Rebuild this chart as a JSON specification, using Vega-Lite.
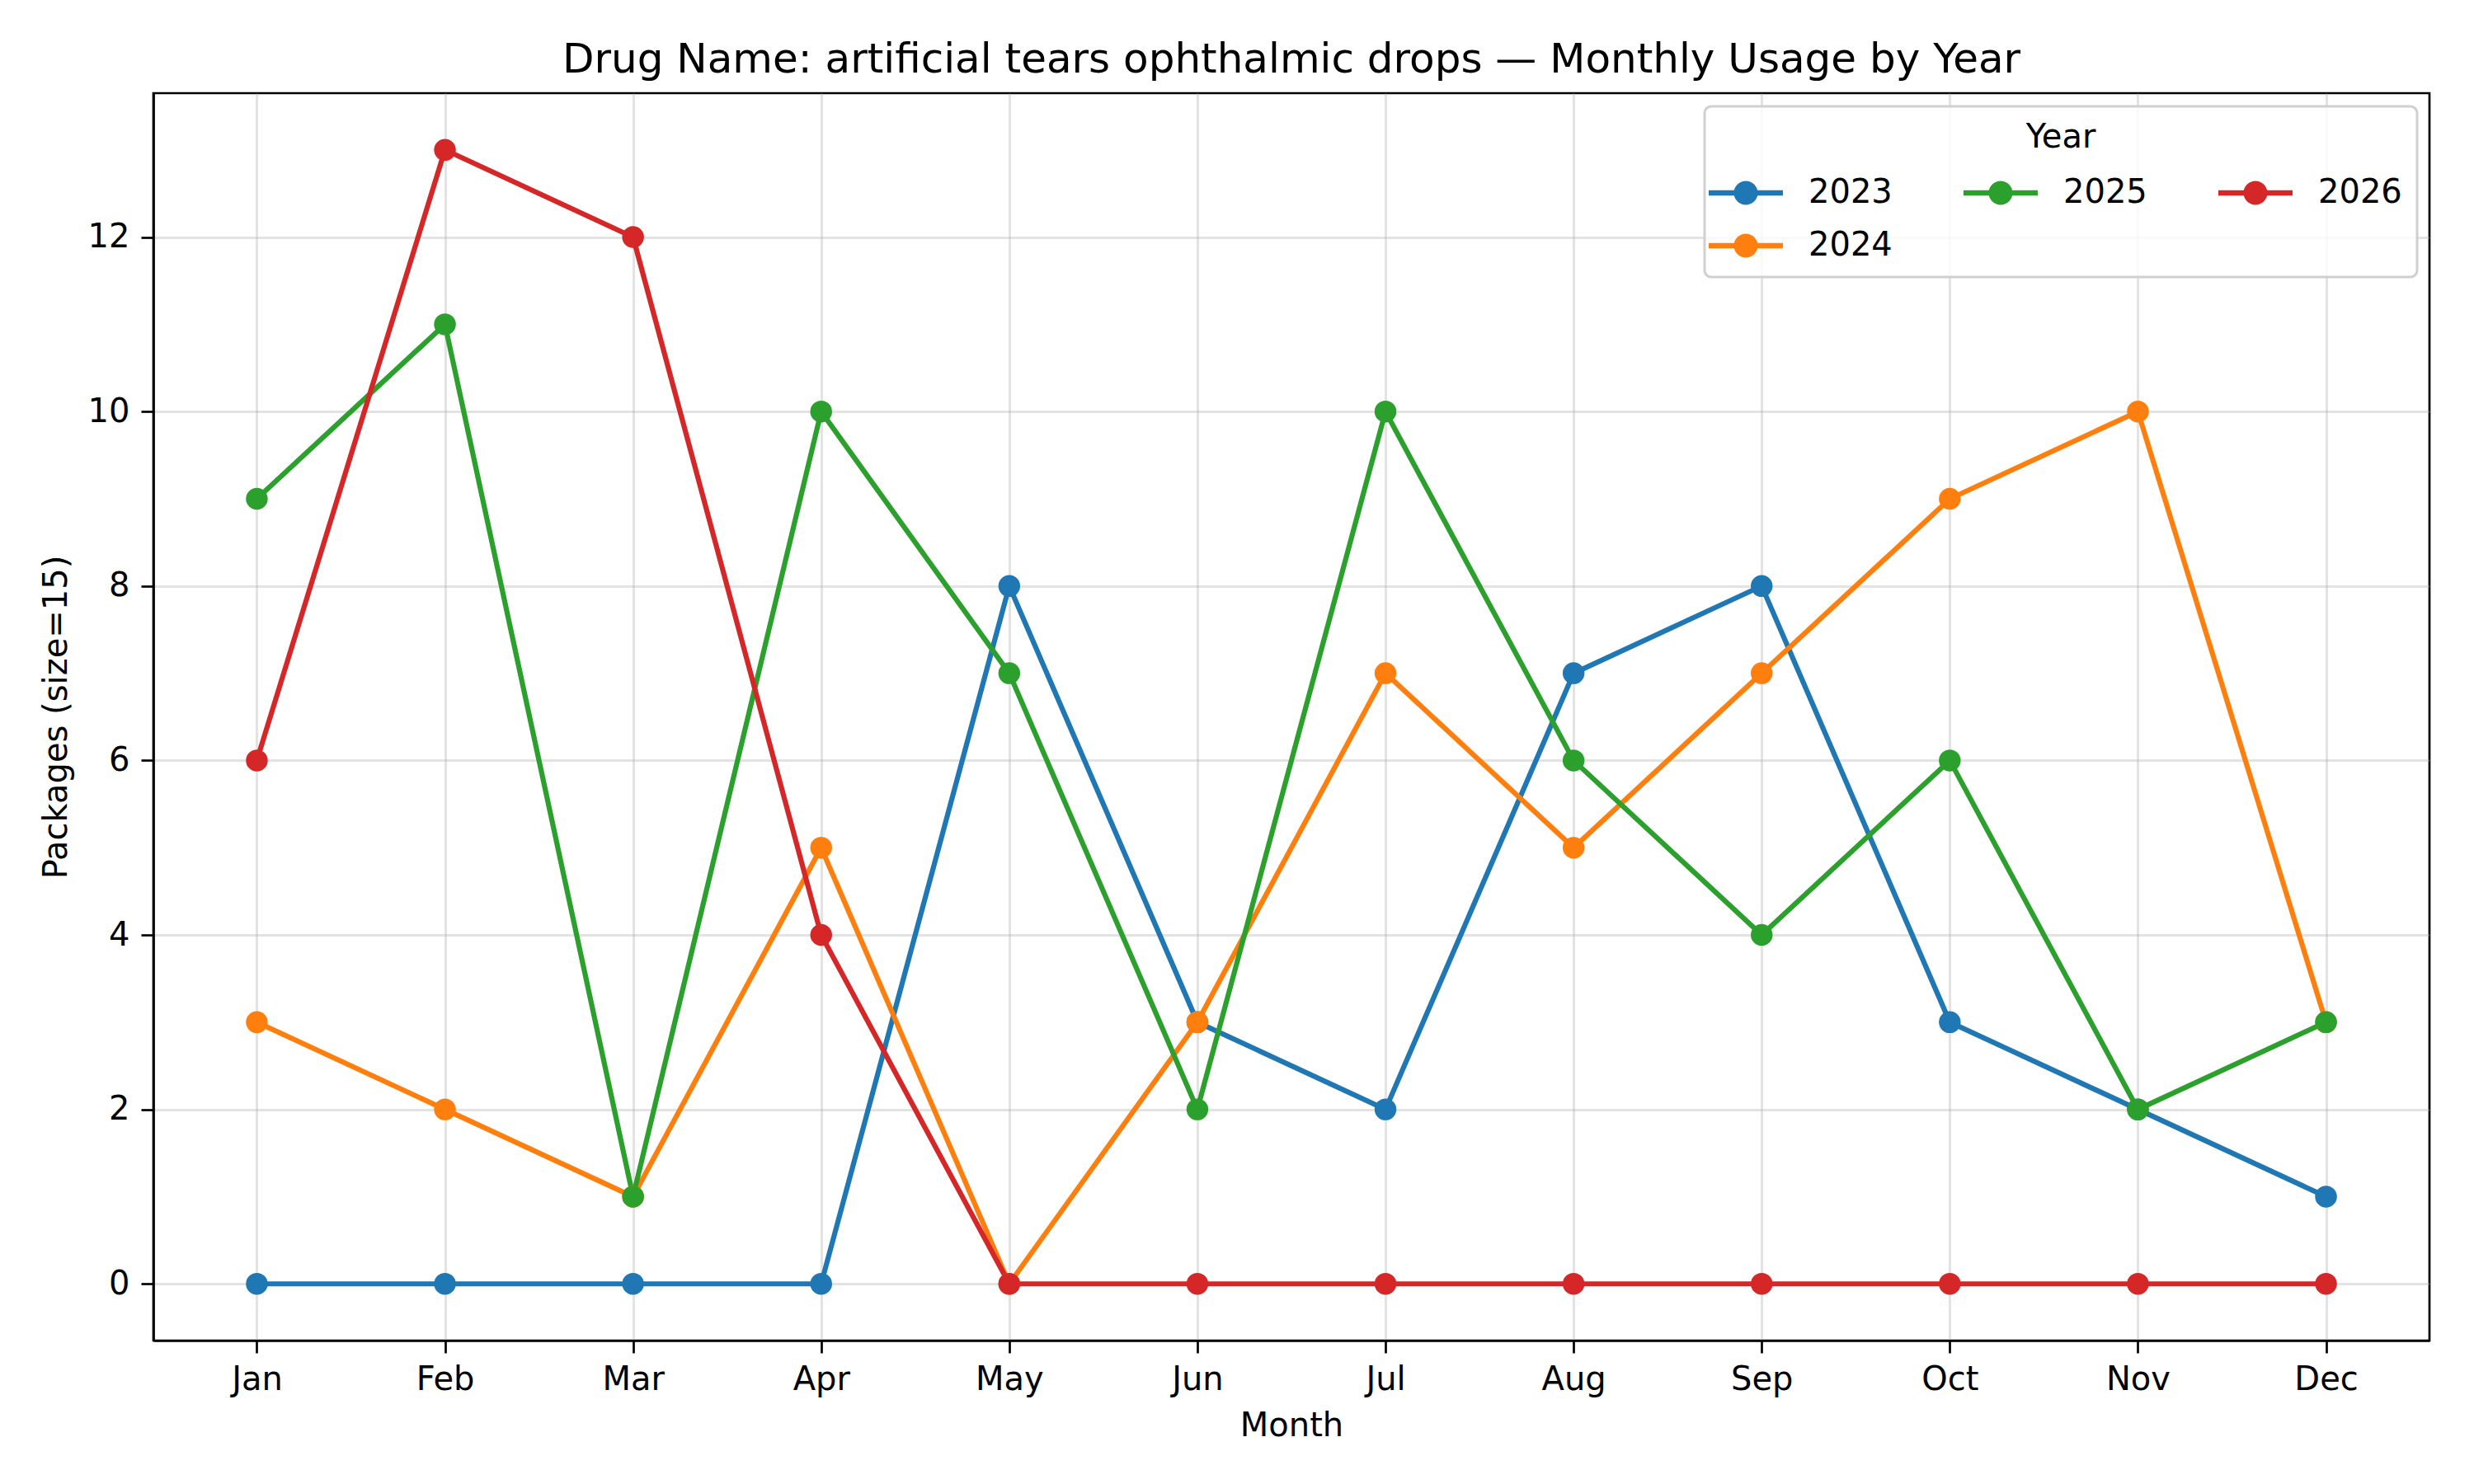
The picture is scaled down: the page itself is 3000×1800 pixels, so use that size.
{
  "$schema": "https://vega.github.io/schema/vega-lite/v6.json",
  "autosize": {"type": "none"},
  "width": 2760,
  "height": 1513,
  "padding": {"left": 186, "top": 113, "right": 54, "bottom": 174},
  "background": "white",
  "title": {
    "text": "Drug Name: artificial tears ophthalmic drops — Monthly Usage by Year",
    "font": "DejaVu Sans",
    "fontSize": 50,
    "fontWeight": "normal",
    "color": "black",
    "anchor": "middle",
    "offset": 15
  },
  "config": {
    "font": "DejaVu Sans",
    "view": {"stroke": "black", "strokeWidth": 2.7},
    "axis": {
      "labelFont": "DejaVu Sans",
      "titleFont": "DejaVu Sans",
      "labelFontSize": 40,
      "titleFontSize": 40,
      "titleFontWeight": "normal",
      "labelColor": "black",
      "titleColor": "black",
      "domainColor": "black",
      "domainWidth": 2.7,
      "tickColor": "black",
      "tickWidth": 2.7,
      "tickSize": 15,
      "grid": true,
      "gridColor": "#b0b0b0",
      "gridOpacity": 0.35,
      "gridWidth": 3
    }
  },
  "data": {
    "values": [
      {"month": "Jan", "year": "2023", "packages": 0},
      {"month": "Feb", "year": "2023", "packages": 0},
      {"month": "Mar", "year": "2023", "packages": 0},
      {"month": "Apr", "year": "2023", "packages": 0},
      {"month": "May", "year": "2023", "packages": 8},
      {"month": "Jun", "year": "2023", "packages": 3},
      {"month": "Jul", "year": "2023", "packages": 2},
      {"month": "Aug", "year": "2023", "packages": 7},
      {"month": "Sep", "year": "2023", "packages": 8},
      {"month": "Oct", "year": "2023", "packages": 3},
      {"month": "Nov", "year": "2023", "packages": 2},
      {"month": "Dec", "year": "2023", "packages": 1},
      {"month": "Jan", "year": "2024", "packages": 3},
      {"month": "Feb", "year": "2024", "packages": 2},
      {"month": "Mar", "year": "2024", "packages": 1},
      {"month": "Apr", "year": "2024", "packages": 5},
      {"month": "May", "year": "2024", "packages": 0},
      {"month": "Jun", "year": "2024", "packages": 3},
      {"month": "Jul", "year": "2024", "packages": 7},
      {"month": "Aug", "year": "2024", "packages": 5},
      {"month": "Sep", "year": "2024", "packages": 7},
      {"month": "Oct", "year": "2024", "packages": 9},
      {"month": "Nov", "year": "2024", "packages": 10},
      {"month": "Dec", "year": "2024", "packages": 3},
      {"month": "Jan", "year": "2025", "packages": 9},
      {"month": "Feb", "year": "2025", "packages": 11},
      {"month": "Mar", "year": "2025", "packages": 1},
      {"month": "Apr", "year": "2025", "packages": 10},
      {"month": "May", "year": "2025", "packages": 7},
      {"month": "Jun", "year": "2025", "packages": 2},
      {"month": "Jul", "year": "2025", "packages": 10},
      {"month": "Aug", "year": "2025", "packages": 6},
      {"month": "Sep", "year": "2025", "packages": 4},
      {"month": "Oct", "year": "2025", "packages": 6},
      {"month": "Nov", "year": "2025", "packages": 2},
      {"month": "Dec", "year": "2025", "packages": 3},
      {"month": "Jan", "year": "2026", "packages": 6},
      {"month": "Feb", "year": "2026", "packages": 13},
      {"month": "Mar", "year": "2026", "packages": 12},
      {"month": "Apr", "year": "2026", "packages": 4},
      {"month": "May", "year": "2026", "packages": 0},
      {"month": "Jun", "year": "2026", "packages": 0},
      {"month": "Jul", "year": "2026", "packages": 0},
      {"month": "Aug", "year": "2026", "packages": 0},
      {"month": "Sep", "year": "2026", "packages": 0},
      {"month": "Oct", "year": "2026", "packages": 0},
      {"month": "Nov", "year": "2026", "packages": 0},
      {"month": "Dec", "year": "2026", "packages": 0}
    ]
  },
  "encoding": {
    "x": {
      "field": "month",
      "type": "ordinal",
      "sort": ["Jan", "Feb", "Mar", "Apr", "May", "Jun", "Jul", "Aug", "Sep", "Oct", "Nov", "Dec"],
      "scale": {"type": "point", "padding": 0.55},
      "axis": {"title": "Month", "labelAngle": 0, "labelPadding": 12, "titlePadding": 16}
    },
    "y": {
      "field": "packages",
      "type": "quantitative",
      "scale": {"domain": [-0.65, 13.65], "nice": false, "zero": false},
      "axis": {"title": "Packages (size=15)", "values": [0, 2, 4, 6, 8, 10, 12], "labelPadding": 14, "titlePadding": 18}
    },
    "color": {
      "field": "year",
      "type": "nominal",
      "scale": {
        "domain": ["2023", "2026", "2025", "2024"],
        "range": ["#1f77b4", "#d62728", "#2ca02c", "#ff7f0e"]
      },
      "legend": {
        "title": "Year",
        "orient": "none",
        "legendX": 1881,
        "legendY": 16,
        "columns": 3,
        "columnPadding": 86,
        "rowPadding": 12,
        "padding": 18,
        "titleAnchor": "middle",
        "titleFont": "DejaVu Sans",
        "titleFontSize": 40,
        "titleFontWeight": "normal",
        "titleColor": "black",
        "titlePadding": 15,
        "labelFont": "DejaVu Sans",
        "labelFontSize": 40,
        "labelColor": "black",
        "labelOffset": 44,
        "symbolSize": 4096,
        "symbolType": "M-1.406,-0.1L-0.44,-0.1L-0.44,0.1L-1.406,0.1Z M0.44,-0.1L1.406,-0.1L1.406,0.1L0.44,0.1Z M0.453,0A0.453,0.453,0,1,1,-0.453,0A0.453,0.453,0,1,1,0.453,0Z",
        "symbolStrokeWidth": 0,
        "strokeColor": "#d0d0d0",
        "fillColor": "rgba(255,255,255,0.8)",
        "cornerRadius": 8,
        "encode": {
          "symbols": {
            "update": {
              "fill": {"scale": "color", "field": "value"},
              "stroke": {"value": "transparent"},
              "opacity": {"value": 1},
              "fillOpacity": {"value": 1}
            }
          },
          "legend": {"update": {"strokeWidth": {"value": 3}}}
        }
      }
    }
  },
  "layer": [
    {"mark": {"type": "line", "strokeWidth": 6.2}},
    {"mark": {"type": "point", "filled": true, "size": 700, "opacity": 1}}
  ]
}
